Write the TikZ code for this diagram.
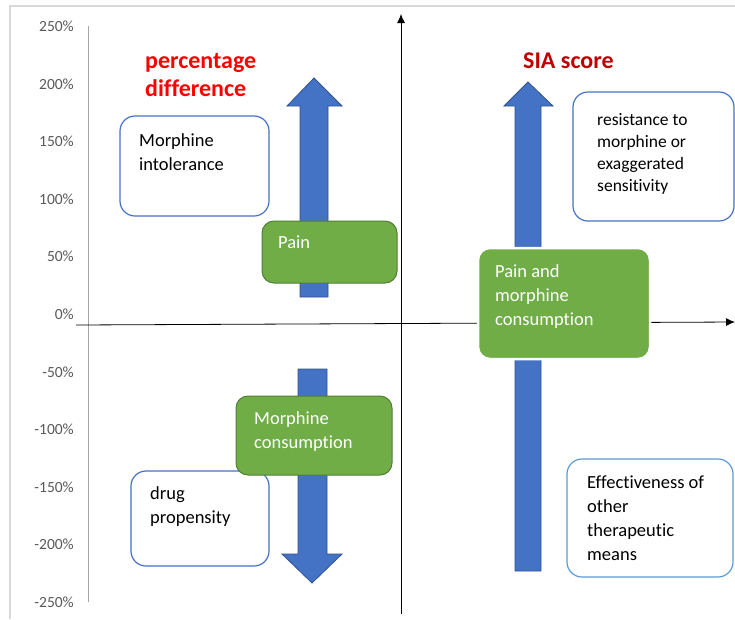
\documentclass[tikz,border=0pt]{standalone}
\usepackage{fontspec}
\setmainfont{Carlito}[Ligatures={NoCommon}]
\usetikzlibrary{arrows.meta}
\definecolor{ablue}{HTML}{4472C4}
\definecolor{ablueedge}{HTML}{2F528F}
\definecolor{agreen}{HTML}{70AD47}
\definecolor{agreenedge}{HTML}{507E32}
\definecolor{lblue}{HTML}{5B9BD5}
\definecolor{darkred}{HTML}{C00000}
\definecolor{tickgray}{HTML}{595959}
\definecolor{framegray}{HTML}{D9D9D9}
\definecolor{axisgray}{HTML}{A6A6A6}
\begin{document}
\begin{tikzpicture}[x=1pt,y=-1pt,
 whitebox/.style={draw=ablue, line width=1.2pt, fill=white, rounded corners=15pt, inner sep=0pt},
 greenbox/.style={draw=agreenedge, line width=1pt, fill=agreen, rounded corners=12pt, inner sep=0pt},
 boxtext/.style={anchor=north west, inner sep=0pt, align=left, font=\fontsize{18.5}{24}\selectfont, text=black},
 greentext/.style={boxtext, text=white},
 ticklab/.style={anchor=base east, inner sep=0pt, font=\fontsize{15.5}{18}\selectfont, text=tickgray},
 redtitle/.style={anchor=north west, inner sep=0pt, align=left, font=\fontsize{24}{28}\selectfont\bfseries},
 bluearrow/.style={fill=ablue, draw=ablueedge, line width=0.8pt},
 mainaxis/.style={draw=black, line width=0.8pt, -{Latex[length=9pt,width=8pt]}}
]
\useasboundingbox (0,0) rectangle (735,619);
% frame
\draw[framegray, line width=1.5pt] (10,619) -- (10,6) -- (735,6);
% gray value axis
\coordinate (gtop) at (88,26);
\coordinate (gbot) at (88,602);
\draw[axisgray, line width=1pt] (gtop) -- (gbot);
\foreach \v [count=\i from 0] in {250,200,...,-250}{
  \node[ticklab] (tick\i) at (74,{26+57.6*\i+5.5}) {\v\%};
}
% main axes
\coordinate (vbot) at (401,614);
\coordinate (vtop) at (401,14);
\draw[mainaxis] (vbot) -- (vtop);
\coordinate (hleft) at (76,325);
\coordinate (hright) at (735,322);
\draw[mainaxis] (hleft) -- (hright);
% blue arrows
\draw[bluearrow] (300,297) -- (328,297) -- (328,106) -- (342,106) -- (314,78) -- (287,106) -- (300,106) -- cycle;
\draw[bluearrow] (298,369) -- (327,369) -- (327,554) -- (342,554) -- (312,583) -- (282,554) -- (298,554) -- cycle;
\draw[bluearrow] (515,571) -- (541,571) -- (541,106) -- (553,106) -- (528,82) -- (504,106) -- (515,106) -- cycle;
% titles
\node[redtitle, text=red] (pdiff) at (145,53) {percentage\\difference};
\node[redtitle, text=darkred] (sia) at (523,53) {SIA score};
% white boxes
\node[whitebox, minimum width=149pt, minimum height=100pt] (mi) at (194.5,166) {};
\node[boxtext] (mitxt) at (139,133) {Morphine\\intolerance};
\node[whitebox, minimum width=161pt, minimum height=129pt] (res) at (653.5,156.5) {};
\node[boxtext, font=\fontsize{17.5}{22}\selectfont] (restxt) at (597,113) {resistance to\\morphine or\\exaggerated\\sensitivity};
\node[whitebox, minimum width=138pt, minimum height=95pt] (drug) at (200,518.5) {};
\node[boxtext] (drugtxt) at (150,486) {drug\\propensity};
\node[whitebox, draw=lblue, minimum width=166pt, minimum height=118pt] (eff) at (650,518) {};
\node[boxtext] (efftxt) at (587,476) {Effectiveness of\\other\\therapeutic\\means};
% green boxes
\node[greenbox, minimum width=135pt, minimum height=62pt] (pain) at (329.5,252) {};
\node[greentext] (paintxt) at (278,236) {Pain};
\node[greenbox, draw=white, line width=2.5pt, minimum width=172pt, minimum height=111pt] (pmc) at (564,303.5) {};
\node[greentext] (pmctxt) at (495,264) {Pain and\\morphine\\consumption};
\node[greenbox, minimum width=156pt, minimum height=79pt] (mc) at (314,435.5) {};
\node[greentext] (mctxt) at (254,411) {Morphine\\consumption};
\end{tikzpicture}
\end{document}
